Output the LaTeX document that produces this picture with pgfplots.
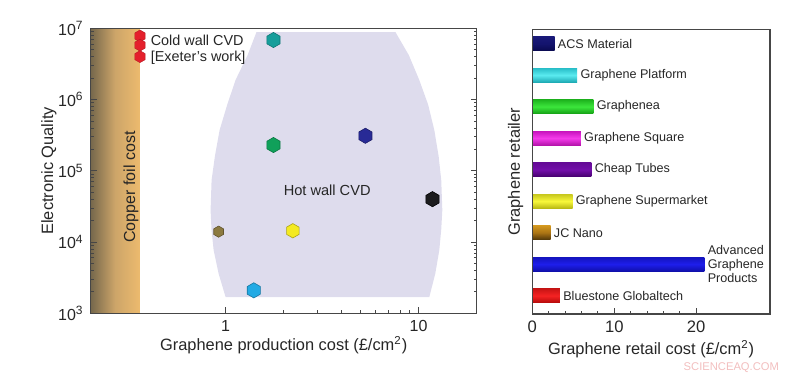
\documentclass[border=0pt]{standalone}
\usepackage{fontspec}
\setmainfont{Liberation Sans}
\usepackage{pgfplots}
\pgfplotsset{compat=1.18}
\definecolor{axcol}{RGB}{70,70,70}
\definecolor{copperL}{RGB}{118,104,76}
\definecolor{copperM}{RGB}{205,165,105}
\definecolor{copperR}{RGB}{236,186,110}
\definecolor{lav}{RGB}{222,220,237}
\definecolor{mred}{RGB}{228,32,44}
\definecolor{mteal}{RGB}{22,158,155}
\definecolor{mgreen}{RGB}{16,160,90}
\definecolor{mnavy}{RGB}{40,42,150}
\definecolor{mblack}{RGB}{28,28,30}
\definecolor{molive}{RGB}{140,122,64}
\definecolor{myellow}{RGB}{244,234,34}
\definecolor{mlblue}{RGB}{34,170,228}
\pgfdeclareplotmark{hexa}{%
  \pgfpathmoveto{\pgfpointpolar{90}{\pgfplotmarksize}}%
  \pgfpathlineto{\pgfpointpolar{150}{\pgfplotmarksize}}%
  \pgfpathlineto{\pgfpointpolar{210}{\pgfplotmarksize}}%
  \pgfpathlineto{\pgfpointpolar{270}{\pgfplotmarksize}}%
  \pgfpathlineto{\pgfpointpolar{330}{\pgfplotmarksize}}%
  \pgfpathlineto{\pgfpointpolar{30}{\pgfplotmarksize}}%
  \pgfpathclose
  \pgfusepathqfillstroke}
\pgfplotsset{
  /pgf/number format/assume math mode=true,
  every axis/.append style={axis line style={axcol, line width=0.6pt}, every tick/.style={axcol, line width=0.4pt}},
}
\tikzset{barlab/.style={anchor=west, inner sep=1.5pt, font=\fontsize{6.3}{7}\selectfont, text=black!85}}
\begin{document}
\begin{tikzpicture}
\path[use as bounding box] (0,0) rectangle (400pt,188.5pt);
% ---------------- left panel ----------------
\begin{axis}[
  at={(45.35pt,31.85pt)}, anchor=south west, scale only axis,
  width=193pt, height=142.5pt,
  xmode=log, ymode=log, xmin=0.2, xmax=20, ymin=1e3, ymax=1e7,
  xtick={1,10}, xticklabels={1,10},
  ytick={1e3,1e4,1e5,1e6,1e7},
  yticklabels={10\textsuperscript{3},10\textsuperscript{4},10\textsuperscript{5},10\textsuperscript{6},10\textsuperscript{7}},
  tick align=inside, xtick pos=left, ytick pos=both,
  major tick length=3pt, minor tick length=1.6pt,
  tick label style={font=\fontsize{8}{9}\selectfont, text=black!85},
  xlabel={Graphene production cost (£/cm\textsuperscript{2})},
  ylabel={Electronic Quality},
  xlabel style={font=\fontsize{8.2}{9}\selectfont, text=black!85, yshift=4.5pt},
  ylabel style={font=\fontsize{8.2}{9}\selectfont, text=black!85, yshift=-6pt},
  axis on top, clip=true,
]
% copper foil band
\addplot[draw=none, left color=copperL, right color=copperR, middle color=copperM] coordinates {(0.2,1e3) (0.358,1e3) (0.358,1e7) (0.2,1e7)} -- cycle;
% hot wall region
\addplot[draw=none, fill=lav] coordinates {
 (1.446,8.87e6) (1.30,4.2e6) (1.126,1.88e6) (1.02,8.5e5) (0.931,3.73e5) (0.88,1.6e5) (0.846,7.4e4) (0.836,2.81e4) (0.845,1.5e4) (0.867,7.7e3) (0.92,3.6e3) (1.0,1.69e3)
 (11.36,1.69e3) (12.2,3.6e3) (12.8,7.7e3) (13.1,1.5e4) (13.27,2.81e4) (13.1,7.4e4) (12.7,1.6e5) (12.06,3.73e5) (11.2,8.5e5) (10.08,1.88e6) (8.9,4.2e6) (7.58,8.87e6)
} -- cycle;
% markers
\addplot[only marks, mark=hexa, mark size=3pt, fill=mred, draw=mred!80!black, line width=0.2pt] coordinates {(0.36,7.8e6) (0.36,5.8e6) (0.36,4.0e6)};
\addplot[only marks, mark=hexa, mark size=3.8pt, fill=mteal, draw=mteal!75!black, line width=0.3pt] coordinates {(1.77,6.85e6)};
\addplot[only marks, mark=hexa, mark size=3.8pt, fill=mgreen, draw=mgreen!75!black, line width=0.3pt] coordinates {(1.77,2.3e5)};
\addplot[only marks, mark=hexa, mark size=3.8pt, fill=mnavy, draw=mnavy!70!black, line width=0.3pt] coordinates {(5.3,3.1e5)};
\addplot[only marks, mark=hexa, mark size=3.8pt, fill=mblack, draw=black, line width=0.3pt] coordinates {(11.8,4.0e4)};
\addplot[only marks, mark=hexa, mark size=2.8pt, fill=molive, draw=molive!70!black, line width=0.3pt] coordinates {(0.92,1.4e4)};
\addplot[only marks, mark=hexa, mark size=3.6pt, fill=myellow, draw=myellow!70!black, line width=0.3pt] coordinates {(2.23,1.44e4)};
\addplot[only marks, mark=hexa, mark size=3.8pt, fill=mlblue, draw=mlblue!70!black, line width=0.3pt] coordinates {(1.40,2.1e3)};
\node[rotate=90, font=\fontsize{8}{9}\selectfont, text=black!85] at (axis cs:0.323,5.93e4) {Copper foil cost};
\node[font=\fontsize{7.3}{8}\selectfont, text=black!85] at (axis cs:3.36,5.26e4) {Hot wall CVD};
\node[anchor=west, inner sep=0pt, font=\fontsize{7.2}{8}\selectfont, text=black!85] at (axis cs:0.4077,6.85e6) {Cold wall CVD};
\node[anchor=west, inner sep=0pt, font=\fontsize{7.2}{8}\selectfont, text=black!85] at (axis cs:0.4077,3.87e6) {[Exeter's work]};
\end{axis}
% ---------------- right panel ----------------
\begin{axis}[
  at={(266.15pt,31.5pt)}, anchor=south west, scale only axis,
  width=118.85pt, height=142.35pt,
  xmin=0, xmax=29, ymin=0.42, ymax=9.455,
  xtick={0,10,20}, minor x tick num=4, ytick=\empty,
  tick align=inside, xtick pos=left,
  major tick length=3pt, minor tick length=1.6pt,
  tick label style={font=\fontsize{8.3}{9}\selectfont, text=black!85},
  xlabel={Graphene retail cost (£/cm\textsuperscript{2})},
  ylabel={Graphene retailer},
  xlabel style={font=\fontsize{8.2}{9}\selectfont, text=black!85, yshift=3pt},
  ylabel style={font=\fontsize{8.2}{9}\selectfont, text=black!85, yshift=-2pt},
  axis on top, clip=false,
  xbar, bar width=7pt, bar shift=0pt,
]
\addplot[draw=none, top color={rgb,255:red,25;green,25;blue,120}, bottom color={rgb,255:red,10;green,10;blue,80}, middle color={rgb,255:red,20;green,20;blue,110}] coordinates {(2.72,9)};
\addplot[draw=none, top color={rgb,255:red,40;green,190;blue,200}, bottom color={rgb,255:red,30;green,170;blue,180}, middle color={rgb,255:red,90;green,235;blue,240}] coordinates {(5.47,8)};
\addplot[draw=none, top color={rgb,255:red,30;green,180;blue,30}, bottom color={rgb,255:red,20;green,160;blue,20}, middle color={rgb,255:red,60;green,230;blue,60}] coordinates {(7.46,7)};
\addplot[draw=none, top color={rgb,255:red,200;green,20;blue,190}, bottom color={rgb,255:red,180;green,20;blue,170}, middle color={rgb,255:red,245;green,60;blue,235}] coordinates {(5.92,6)};
\addplot[draw=none, top color={rgb,255:red,100;green,10;blue,150}, bottom color={rgb,255:red,70;green,0;blue,110}, middle color={rgb,255:red,115;green,15;blue,170}] coordinates {(7.22,5)};
\addplot[draw=none, top color={rgb,255:red,200;green,200;blue,30}, bottom color={rgb,255:red,185;green,185;blue,20}, middle color={rgb,255:red,248;green,248;blue,60}] coordinates {(4.91,4)};
\addplot[draw=none, top color={rgb,255:red,210;green,150;blue,30}, bottom color={rgb,255:red,80;green,55;blue,10}, middle color={rgb,255:red,170;green,115;blue,20}] coordinates {(2.23,3)};
\addplot[draw=none, top color={rgb,255:red,20;green,20;blue,190}, bottom color={rgb,255:red,15;green,15;blue,170}, middle color={rgb,255:red,30;green,30;blue,235}] coordinates {(21.0,2)};
\addplot[draw=none, top color={rgb,255:red,200;green,20;blue,20}, bottom color={rgb,255:red,180;green,10;blue,10}, middle color={rgb,255:red,245;green,35;blue,35}] coordinates {(3.37,1)};
\node[barlab] at (axis cs:2.72,9) {ACS Material};
\node[barlab] at (axis cs:5.47,8) {Graphene Platform};
\node[barlab] at (axis cs:7.46,7) {Graphenea};
\node[barlab] at (axis cs:5.92,6) {Graphene Square};
\node[barlab] at (axis cs:7.22,5) {Cheap Tubes};
\node[barlab] at (axis cs:4.91,4) {Graphene Supermarket};
\node[barlab] at (axis cs:2.23,3) {JC Nano};
\node[barlab, align=left] at (axis cs:21.0,2) {Advanced\\Graphene\\Products};
\node[barlab] at (axis cs:3.37,1) {Bluestone Globaltech};
\end{axis}
\node[font=\fontsize{5.6}{6}\selectfont, text={rgb,255:red,242;green,190;blue,190}, anchor=east] at (393pt,4.5pt) {SCIENCEAQ.COM};
\end{tikzpicture}
\end{document}
